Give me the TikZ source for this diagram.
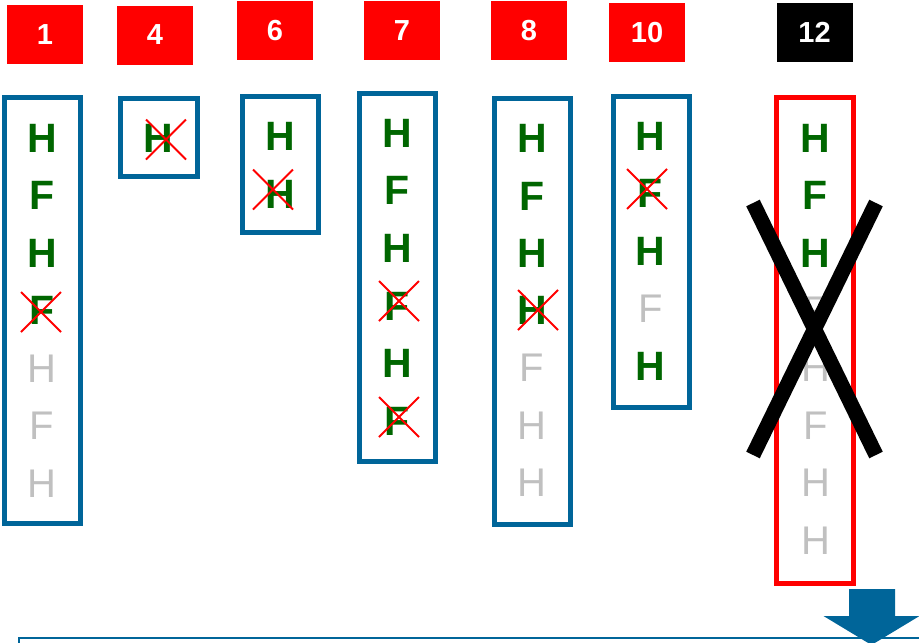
\documentclass[tikz,border=0pt]{standalone}
\usepackage{fontspec}
\setmainfont{Liberation Sans}
\usepackage{xcolor}
\usepackage{tikz}
\usetikzlibrary{
  shapes.misc,
  positioning
}
\definecolor{boxblue}{RGB}{0,101,153}
\definecolor{hfgreen}{RGB}{0,102,0}
\definecolor{fadegray}{RGB}{192,192,192}
\tikzset{
  numbox/.style  = {fill=red, text=white, minimum width=76pt,
                    minimum height=59pt, inner sep=0pt,
                    font=\fontsize{29}{29}\selectfont\bfseries},
  colbox/.style  = {draw=boxblue, line width=5pt, minimum width=76pt,
                    inner sep=0pt},
  dropbox/.style = {draw=red, line width=5pt, minimum width=77pt,
                    inner sep=0pt},
  on/.style      = {text=hfgreen, inner sep=0pt,
                    font=\fontsize{41}{41}\selectfont\bfseries},
  off/.style     = {text=fadegray, inner sep=0pt,
                    font=\fontsize{40}{40}\selectfont},
  xmark/.style   = {cross out, draw=red, line width=1.8pt,
                    minimum size=40pt, inner sep=0pt, outer sep=0pt},
  xarea/.style   = {minimum width=123pt, minimum height=252pt,
                    inner sep=0pt, outer sep=0pt},
  bigx/.style    = {draw=black, line width=15pt},
}

\begin{document}
\begin{tikzpicture}[x=1pt, y=-1pt]

    \useasboundingbox (0,0) rectangle (919,643);

    % Header numbers
    \foreach \n/\xx/\yy in {1/45/34.5, 4/155/35, 6/275/30.5, 7/402/30.5, 8/529/30.5, 10/647/32.5}
        \node[numbox] (h\n) at (\xx,\yy) {\n};
    \node[numbox, fill=black] (h12) at (814.5,32) {12};

    % --- Column boxes ---
    \node[colbox, minimum height=426pt] (col1)  at (42.5,310.5) {};
    \node[colbox, minimum width=77pt, minimum height=78pt] (col4) at (159,137.5) {};
    \node[colbox, minimum height=136pt] (col6)  at (280.5,164.5) {};
    \node[colbox, minimum height=368pt] (col7)  at (397.5,277.5) {};
    \node[colbox, minimum height=426pt] (col8)  at (532.5,311.5) {};
    \node[colbox, minimum height=311pt] (col10) at (651.5,252) {};
    \node[dropbox, minimum height=486pt] (col12) at (815,340.5) {};

    % --- Letters ---
    \foreach \i/\t/\s in {1/H/on, 2/F/on, 3/H/on, 4/F/on, 5/H/off, 6/F/off, 7/H/off}
        \node[\s] (c1-\i) at (42, {138+(\i-1)*57.6}) {\t};

    \node[on] (c4-1) at (158,138) {H};

    \foreach \i/\t/\s in {1/H/on, 2/H/on}
        \node[\s] (c6-\i) at (280, {136.5+(\i-1)*58}) {\t};

    \foreach \i/\t/\s in {1/H/on, 2/F/on, 3/H/on, 4/F/on, 5/H/on, 6/F/on}
        \node[\s] (c7-\i) at (397, {133+(\i-1)*57.7}) {\t};

    \foreach \i/\t/\s in {1/H/on, 2/F/on, 3/H/on, 4/H/on, 5/F/off, 6/H/off, 7/H/off}
        \node[\s] (c8-\i) at (532, {138.5+(\i-1)*57.4}) {\t};

    \foreach \i/\t/\s in {1/H/on, 2/F/on, 3/H/on, 4/F/off, 5/H/on}
        \node[\s] (c10-\i) at (650.5, {136+(\i-1)*57.7}) {\t};

    \foreach \i/\t/\s in {1/H/on, 2/F/on, 3/H/on, 4/F/off, 5/H/off, 6/F/off, 7/H/off, 8/H/off}
        \node[\s] (c12-\i) at (815.5, {138+(\i-1)*57.5}) {\t};

    % --- Red crosses ---
    \node[xmark] (x1-4)  at (41,312) {};
    \node[xmark] (x4-1)  at (166,139.5) {};
    \node[xmark] (x6-2)  at (273,189.5) {};
    \node[xmark] (x7-4)  at (399,301) {};
    \node[xmark] (x7-6)  at (399,417) {};
    \node[xmark] (x8-4)  at (538,310) {};
    \node[xmark] (x10-2) at (647,189) {};

    % Big black cross over column 12
    \node[xarea] (drop) at (814.5,329) {};
    \draw[bigx] (drop.north west) -- (drop.south east);
    \draw[bigx] (drop.north east) -- (drop.south west);

    % --- Bottom panel and block arrow ---
    \draw[boxblue, line width=2pt] (19,638) rectangle (960,720);
    \fill[boxblue] (849,589) -- (895,589) -- (895,616) -- (919.5,616)
        -- (871.5,645) -- (823.5,616) -- (849,616) -- cycle;

\end{tikzpicture}
\end{document}
